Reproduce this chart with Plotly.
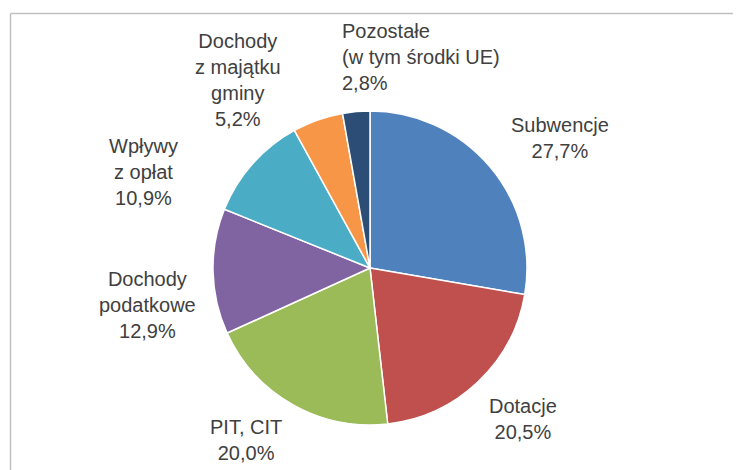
import plotly.graph_objects as go

# Data
categories = ["Subwencje", "Dotacje", "PIT, CIT", "Dochody podatkowe",
              "Wpływy z opłat", "Dochody z majątku gminy", "Pozostałe (w tym środki UE)"]
values = [27.7, 20.5, 20.0, 12.9, 10.9, 5.2, 2.8]
label_texts = ["Subwencje", "Dotacje", "PIT, CIT", "Dochody<br>podatkowe",
               "Wpływy<br>z opłat", "Dochody<br>z majątku<br>gminy", "Pozostałe<br>(w tym środki UE)"]
colors = ["#4F81BD", "#C0504D", "#9BBB59", "#8064A2", "#4BACC6", "#F79646", "#2C4D75"]

W, H = 741, 470
OFF = 8  # page body margin compensation
FW, FH = W - OFF, H - OFF
# label layout (page-pixel centre positions, alignment)
label_pos = [(560, 138, "center"), (523, 419, "center"), (246, 440, "center"),
             (147, 305, "center"), (143, 172, "center"), (238, 80, "center"),
             (340, 57, "left")]


def px_x(p):
    return (p - OFF) / FW


def px_y(p):
    return 1 - (p - OFF) / FH


cx, cy, r = 370, 268, 157

fig = go.Figure(go.Pie(
    labels=categories, values=values, sort=False, direction="clockwise",
    rotation=0, marker=dict(colors=colors, line=dict(color="white", width=1.5)),
    textinfo="none", hoverinfo="label+percent", showlegend=False,
    domain=dict(x=[px_x(cx - r), px_x(cx + r)], y=[px_y(cy + r), px_y(cy - r)]),
))

font = dict(family="Liberation Sans, Arial, sans-serif", size=20, color="#404040")
for txt, v, (px, py, al) in zip(label_texts, values, label_pos):
    s = f"{v:.1f}".replace(".", ",") + "%"
    fig.add_annotation(
        text=f"{txt}<br>{s}", x=px_x(px), y=px_y(py),
        xref="paper", yref="paper",
        xanchor="left" if al == "left" else "center", yanchor="middle",
        align=al, showarrow=False, font=font,
    )

border = dict(color="#BFBFBF", width=1.5)
# top border line
fig.add_shape(type="line", xref="paper", yref="paper",
              x0=px_x(10.5), x1=px_x(740), y0=px_y(13.5), y1=px_y(13.5),
              line=border, layer="below")
# left border line
fig.add_shape(type="line", xref="paper", yref="paper",
              x0=px_x(10.5), x1=px_x(10.5), y0=px_y(470), y1=px_y(13.5),
              line=border, layer="below")

fig.update_layout(width=FW, height=FH, margin=dict(l=0, r=0, t=0, b=0),
                  paper_bgcolor="white", plot_bgcolor="white")
fig.write_html("out.html")
